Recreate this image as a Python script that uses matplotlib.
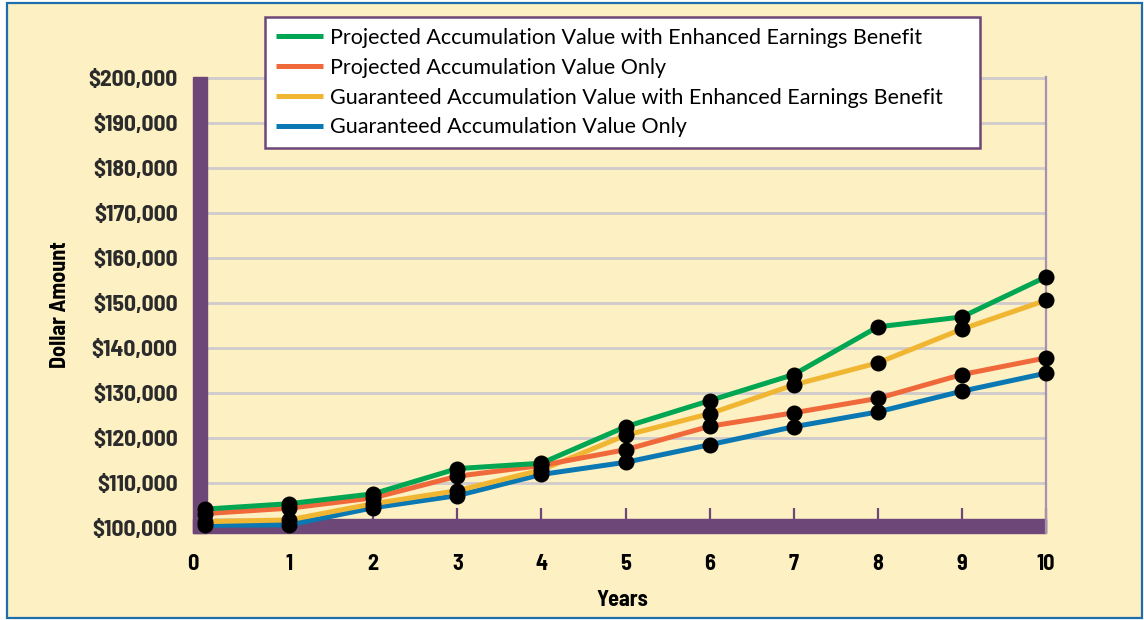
import matplotlib
matplotlib.use("Agg")
import matplotlib.pyplot as plt
from matplotlib.patches import Rectangle
from matplotlib.ticker import FuncFormatter
from matplotlib.transforms import ScaledTranslation

# values
years = [0, 1, 2, 3, 4, 5, 6, 7, 8, 9, 10]
proj_eeb = [104200, 105400, 107600, 113200, 114400, 122500, 128300, 134100, 144700, 146900, 155800]
proj_only = [103200, 104400, 106700, 111500, 113900, 117400, 122600, 125600, 128800, 134100, 137800]
guar_eeb = [101400, 101800, 105400, 108300, 112900, 120600, 125400, 131800, 136700, 144200, 150600]
guar_only = [100600, 100700, 104500, 107200, 111900, 114600, 118500, 122500, 125800, 130400, 134400]
labels = ["Projected Accumulation Value with Enhanced Earnings Benefit",
          "Projected Accumulation Value Only",
          "Guaranteed Accumulation Value with Enhanced Earnings Benefit",
          "Guaranteed Accumulation Value Only"]
y_ticks = list(range(100000, 200001, 10000))

CREAM = "#FDF0C3"
PURPLE = "#6D4777"
GRID = "#CFCACB"
colors = ["#00A651", "#F0693B", "#F0B632", "#0A78B3"]
NARROW = ["Barlow Semi Condensed", "DejaVu Sans"]

W, H = 1144, 620
fig = plt.figure(figsize=(W / 100, H / 100), dpi=100, facecolor="white")
fig.patches.append(Rectangle((7 / W, 2 / H), 1135 / W, 615 / H, transform=fig.transFigure,
                             facecolor=CREAM, edgecolor="#1E6EAD", linewidth=1.6, zorder=-1))

ax = fig.add_axes([193 / W, (H - 533) / H, 853 / W, 456 / H])
ax.set_facecolor("none")
ax.set_xlim(-0.143, 10)
ax.set_ylim(98890, 200222)

for v in y_ticks[1:]:
    ax.axhline(v, color=GRID, lw=2.0, zorder=1)

# purple frame bars
ax.add_patch(Rectangle((0, 0), 1, 14 / 456, transform=ax.transAxes, color=PURPLE, zorder=2, clip_on=False))
ax.add_patch(Rectangle((0, 0), 14 / 853, 1, transform=ax.transAxes, color=PURPLE, zorder=2, clip_on=False))

series = [proj_eeb, proj_only, guar_eeb, guar_only]
for vals, col, lab in zip(series[::-1], colors[::-1], labels[::-1]):
    ax.plot(years, vals, color=col, lw=3.6, zorder=3, clip_on=False, label=lab, solid_capstyle="butt")
for vals in series:
    ax.plot(years, vals, "o", color="black", ms=10.5, zorder=4, clip_on=False)

for s in ("top", "left", "bottom"):
    ax.spines[s].set_visible(False)
ax.spines["right"].set_color("#A890B3")
ax.spines["right"].set_linewidth(1.6)

ax.set_xticks(years)
ax.set_xticklabels([str(y) for y in years], family=NARROW, fontweight="bold", fontsize=16, color="black")
ax.tick_params(axis="x", direction="in", length=18, width=1.6, color=PURPLE, pad=15)
lbl0 = ax.get_xticklabels()[0]
lbl0.set_transform(lbl0.get_transform() + ScaledTranslation(-0.12, 0, fig.dpi_scale_trans))
ax.set_yticks(y_ticks)
ax.yaxis.set_major_formatter(FuncFormatter(lambda v, p: f"${v:,.0f}"))
for t in ax.get_yticklabels():
    t.set_family(NARROW); t.set_fontweight("bold"); t.set_fontsize(17); t.set_color("#2B2B2B")
ax.tick_params(axis="y", length=0, pad=11)

fig.text(60 / W, 1 - 305 / H, "Dollar Amount", rotation=90, ha="center", va="center",
         family=NARROW, fontweight="bold", fontsize=16)
fig.text(622 / W, 1 - 600 / H, "Years", ha="center", va="center",
         family=NARROW, fontweight="bold", fontsize=16)

handles, labs = ax.get_legend_handles_labels()
leg = fig.legend(handles[::-1], labs[::-1], loc="upper left", mode="expand",
                 bbox_to_anchor=(265 / W, (H - 148) / H, 715 / W, 131 / H),
                 prop={"family": ["Lato", "DejaVu Sans"], "size": 15.5},
                 handlelength=2.2, handletextpad=0.3, labelspacing=0.46, borderpad=0.5,
                 borderaxespad=0, fancybox=False, framealpha=1)
leg.get_frame().set_edgecolor(PURPLE)
leg.get_frame().set_linewidth(1.8)
for ln in leg.get_lines():
    ln.set_linewidth(3.6)

fig.savefig("out.png", dpi=100, facecolor="white")
